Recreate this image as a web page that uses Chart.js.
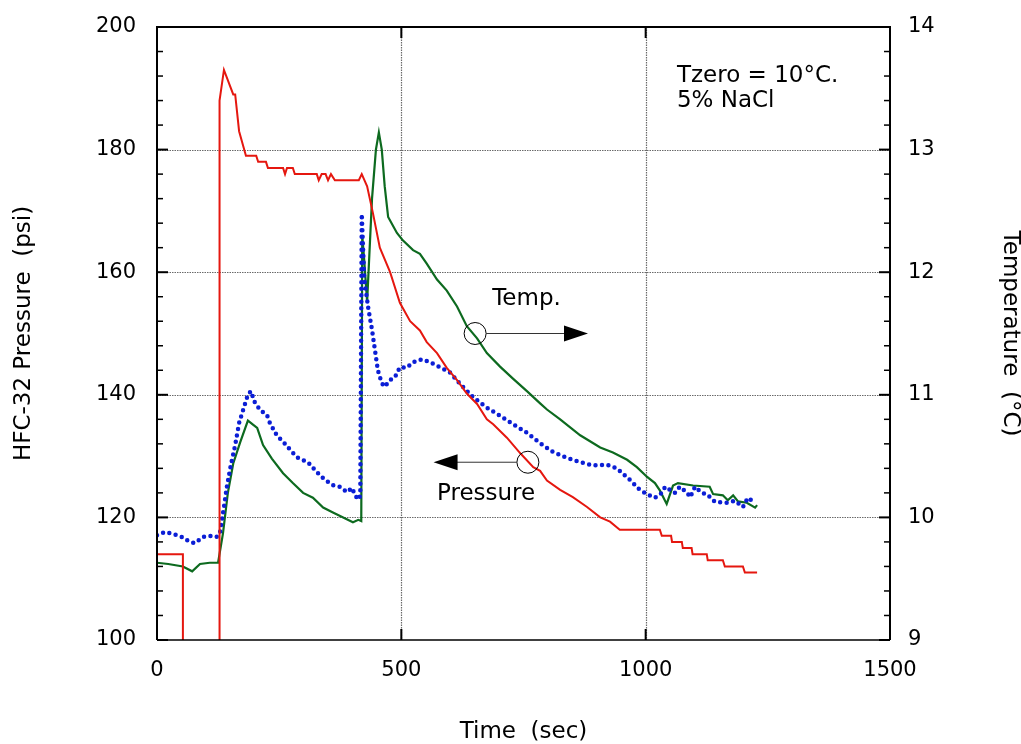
<!DOCTYPE html>
<html>
<head>
<meta charset="utf-8">
<script src="https://cdn.jsdelivr.net/npm/chart.js@4.4.1/dist/chart.umd.min.js"></script>
<style>
  body { margin: 0; background: #fff; }
  #wrap { width: 1021px; height: 744px; }
</style>
</head>
<body>
<div id="wrap"><canvas id="c"></canvas></div>
<script>
// pressure (red, left axis)
const redTime = [0, 53, 53, 127, 128, 137, 156, 160, 168, 182, 203, 207, 223, 227, 258, 262, 266, 278, 282, 327, 331, 337, 345, 350, 356, 364, 413, 419, 430, 442, 456, 477, 497, 518, 538, 552, 573, 593, 614, 634, 655, 675, 688, 716, 743, 770, 784, 798, 825, 851, 880, 907, 927, 947, 1029, 1033, 1052, 1054, 1074, 1076, 1094, 1096, 1125, 1127, 1158, 1162, 1199, 1203, 1228];
const redPsi = [114, 114, 90, 90, 188, 193, 189, 189, 183, 179, 179, 178, 178, 177, 177, 176, 177, 177, 176, 176, 175, 176, 176, 175, 176, 175, 175, 176, 174, 169.6, 164, 160, 155, 152, 150.5, 148.6, 146.8, 144.4, 142.4, 140.2, 138.5, 136, 135.2, 133, 130.5, 128.2, 127.6, 126, 124.5, 123.3, 121.7, 120, 119.3, 118, 118, 117, 117, 116, 116, 115, 115, 114, 114, 113, 113, 112, 112, 111, 111];

// blue dotted (left axis)
const blueTime = [0, 16, 33, 51, 67, 78, 94, 112, 122, 129, 137, 143, 151, 160, 168, 178, 186, 192, 200, 211, 225, 231, 245, 262, 276, 289, 309, 327, 340, 358, 374, 389, 399, 405, 411, 416, 419, 424, 432, 440, 446, 452, 460, 466, 477, 487, 497, 511, 524, 542, 559, 579, 600, 620, 647, 675, 702, 729, 757, 784, 810, 839, 866, 892, 921, 941, 968, 988, 1005, 1019, 1033, 1040, 1060, 1070, 1085, 1091, 1101, 1115, 1125, 1142, 1166, 1183, 1199, 1209, 1224];
const bluePsi = [117.1, 117.6, 117.3, 116.8, 116, 115.8, 116.8, 117, 116.8, 117.6, 121.7, 125, 128.5, 131.8, 135.4, 138, 140, 140.6, 138.8, 137.5, 136.7, 135.4, 133.4, 132, 130.7, 129.7, 129, 127.4, 126.4, 125.3, 125, 124.1, 124.8, 123.7, 122.9, 123.5, 169.5, 159, 154.3, 150.6, 147.3, 144, 141.9, 141.3, 142.4, 142.9, 144.5, 144.4, 145.3, 145.8, 145.3, 144.5, 143.6, 141.8, 139.6, 137.9, 136.6, 135.2, 133.8, 132.1, 130.7, 129.7, 129, 128.5, 128.6, 128, 126.1, 124.5, 123.7, 123.2, 124, 125, 124, 125, 124, 123.3, 125, 124, 123.8, 122.5, 122.4, 122.7, 121.7, 123.2, 122.4];

// temperature (green, right axis)
const greenTime = [0, 23, 53, 72, 88, 108, 125, 135, 145, 156, 170, 186, 205, 217, 235, 258, 278, 299, 319, 340, 360, 381, 401, 412, 418, 420, 424, 430, 440, 448, 454, 460, 466, 473, 491, 503, 524, 538, 552, 573, 593, 614, 634, 655, 675, 702, 729, 757, 784, 798, 825, 866, 907, 933, 962, 982, 1003, 1019, 1029, 1043, 1056, 1066, 1097, 1131, 1138, 1158, 1168, 1179, 1189, 1207, 1224, 1228];
const greenTemp = [9.63, 9.62, 9.6, 9.56, 9.62, 9.63, 9.63, 9.87, 10.2, 10.44, 10.61, 10.79, 10.73, 10.59, 10.48, 10.36, 10.28, 10.2, 10.16, 10.08, 10.04, 10.0, 9.96, 9.98, 9.97, 12.3, 12.1, 11.76, 12.6, 13.0, 13.14, 13.0, 12.7, 12.45, 12.32, 12.26, 12.18, 12.15, 12.07, 11.94, 11.85, 11.72, 11.56, 11.46, 11.34, 11.23, 11.13, 11.03, 10.93, 10.88, 10.8, 10.67, 10.57, 10.53, 10.47, 10.41, 10.33, 10.28, 10.22, 10.11, 10.26, 10.28, 10.26, 10.25, 10.19, 10.18, 10.14, 10.18, 10.13, 10.12, 10.08, 10.1];

const timeTicks = [0, 500, 1000, 1500];
const psiTicks = [100, 120, 140, 160, 180, 200];
const tempTicks = [9, 10, 11, 12, 13, 14];

const toXY = (xs, ys) => xs.map((v, i) => ({ x: v, y: ys[i] }));

const FONT = 'DejaVu Sans';

// grid, frame, inward ticks and the notes
const decor = {
  id: 'decor',
  beforeDatasetsDraw(chart) {
    const { ctx, chartArea: a, scales: { x, y } } = chart;
    ctx.save();
    ctx.strokeStyle = '#6a6a6a';
    ctx.lineWidth = 1.2;
    ctx.setLineDash([1.5, 1]);
    timeTicks.slice(1, -1).forEach(v => {
      const px = Math.round(x.getPixelForValue(v)) + 0.5;
      ctx.beginPath(); ctx.moveTo(px, a.top); ctx.lineTo(px, a.bottom); ctx.stroke();
    });
    psiTicks.slice(1, -1).forEach(v => {
      const py = Math.round(y.getPixelForValue(v)) + 0.5;
      ctx.beginPath(); ctx.moveTo(a.left, py); ctx.lineTo(a.right, py); ctx.stroke();
    });
    ctx.restore();
  },
  afterDatasetsDraw(chart) {
    const { ctx, chartArea: a, scales: { x, y, y2 } } = chart;
    ctx.save();
    ctx.strokeStyle = '#000';
    // inward ticks
    for (let v = 100; v <= 200; v += 4) {
      const major = (v - 100) % 20 === 0;
      const py = y.getPixelForValue(v);
      ctx.lineWidth = major ? 2 : 1.5;
      const len = major ? 11 : 6;
      ctx.beginPath(); ctx.moveTo(a.left, py); ctx.lineTo(a.left + len, py); ctx.stroke();
      ctx.beginPath(); ctx.moveTo(a.right, py); ctx.lineTo(a.right - len, py); ctx.stroke();
    }
    ctx.lineWidth = 2;
    timeTicks.forEach(v => {
      const px = x.getPixelForValue(v);
      ctx.beginPath(); ctx.moveTo(px, a.bottom); ctx.lineTo(px, a.bottom - 11); ctx.stroke();
      ctx.beginPath(); ctx.moveTo(px, a.top); ctx.lineTo(px, a.top + 11); ctx.stroke();
    });
    // frame
    ctx.lineWidth = 2;
    ctx.beginPath();
    ctx.moveTo(a.left, a.bottom); ctx.lineTo(a.left, a.top); ctx.lineTo(a.right, a.top); ctx.lineTo(a.right, a.bottom);
    ctx.stroke();
    ctx.lineWidth = 1.5;
    ctx.beginPath(); ctx.moveTo(a.left, a.bottom); ctx.lineTo(a.right, a.bottom); ctx.stroke();

    // notes
    const circle = (cx, cy) => {
      ctx.lineWidth = 1; ctx.strokeStyle = '#000';
      ctx.beginPath(); ctx.arc(cx, cy, 11, 0, Math.PI * 2); ctx.stroke();
    };
    const arrow = (x0, x1, yy) => {
      const dir = Math.sign(x1 - x0);
      ctx.lineWidth = 1; ctx.strokeStyle = '#333';
      ctx.beginPath(); ctx.moveTo(x0, yy); ctx.lineTo(x1 - dir * 20, yy); ctx.stroke();
      ctx.fillStyle = '#000';
      ctx.beginPath(); ctx.moveTo(x1, yy); ctx.lineTo(x1 - dir * 24, yy - 8); ctx.lineTo(x1 - dir * 24, yy + 8); ctx.closePath(); ctx.fill();
    };
    const tx = x.getPixelForValue(651), ty = y2.getPixelForValue(11.5);
    circle(tx, ty);
    arrow(tx + 11, x.getPixelForValue(882), ty);
    const px = x.getPixelForValue(759), py = y.getPixelForValue(129);
    circle(px, py);
    arrow(px - 11, x.getPixelForValue(566), py);

    ctx.fillStyle = '#000';
    ctx.font = '23px "' + FONT + '"';
    ctx.textBaseline = 'middle';
    ctx.textAlign = 'left';
    ctx.fillText('Temp.', x.getPixelForValue(686), y2.getPixelForValue(11.78));
    ctx.fillText('Pressure', x.getPixelForValue(573), y.getPixelForValue(123.8));
    ctx.fillText('Tzero = 10°C.', x.getPixelForValue(1064), y.getPixelForValue(192));
    ctx.fillText('5% NaCl', x.getPixelForValue(1064), y.getPixelForValue(188));
    ctx.restore();
  }
};

const tickFont = { family: FONT, size: 21 };
const titleFont = { family: FONT, size: 23, lineHeight: 1 };
const plain = v => String(v);
// keep the plot box fixed: no extra room for overhanging labels
const fitY = w => s => { s.width = w; s.paddingTop = 0; s.paddingBottom = 0; };

new Chart(document.getElementById('c'), {
  type: 'line',
  data: {
    datasets: [
      { data: toXY(redTime, redPsi), yAxisID: 'y', borderColor: '#e5170f', borderWidth: 2, pointRadius: 0, tension: 0 },
      { data: toXY(blueTime, bluePsi), yAxisID: 'y', borderColor: '#0b1ed6', borderWidth: 4.5, borderDash: [0, 6.5], borderCapStyle: 'round', pointRadius: 0, tension: 0 },
      { data: toXY(greenTime, greenTemp), yAxisID: 'y2', borderColor: '#0d6a1f', borderWidth: 2.2, pointRadius: 0, tension: 0 }
    ]
  },
  options: {
    responsive: true,
    maintainAspectRatio: false,
    animation: false,
    layout: { padding: { top: 27, left: 0, right: 0, bottom: 0 } },
    plugins: { legend: { display: false }, tooltip: { enabled: false } },
    scales: {
      x: {
        type: 'linear', min: 0, max: 1500,
        afterBuildTicks: s => { s.ticks = timeTicks.map(v => ({ value: v })); },
        afterFit: s => { s.height = 104; s.paddingLeft = 0; s.paddingRight = 0; },
        grid: { display: false, drawTicks: false },
        border: { display: false },
        ticks: { font: tickFont, color: '#000', padding: 18, maxRotation: 0, callback: plain },
        title: { display: true, text: 'Time  (sec)', font: titleFont, color: '#000', padding: { top: 0, bottom: 0 } }
      },
      y: {
        type: 'linear', position: 'left', min: 100, max: 200,
        afterBuildTicks: s => { s.ticks = psiTicks.map(v => ({ value: v })); },
        afterFit: fitY(157),
        grid: { display: false, drawTicks: false },
        border: { display: false },
        ticks: { font: tickFont, color: '#000', padding: 21, callback: plain },
        title: { display: true, text: 'HFC-32 Pressure  (psi)', font: titleFont, color: '#000', padding: { top: 13, bottom: 0 } }
      },
      y2: {
        type: 'linear', position: 'right', min: 9, max: 14,
        afterBuildTicks: s => { s.ticks = tempTicks.map(v => ({ value: v })); },
        afterFit: fitY(131),
        grid: { display: false, drawTicks: false },
        border: { display: false },
        ticks: { font: tickFont, color: '#000', padding: 18, callback: plain },
        title: { display: true, text: 'Temperature  (°C)', font: titleFont, color: '#000', padding: { top: 0, bottom: 0 } }
      }
    }
  },
  plugins: [decor]
});
</script>
</body>
</html>
